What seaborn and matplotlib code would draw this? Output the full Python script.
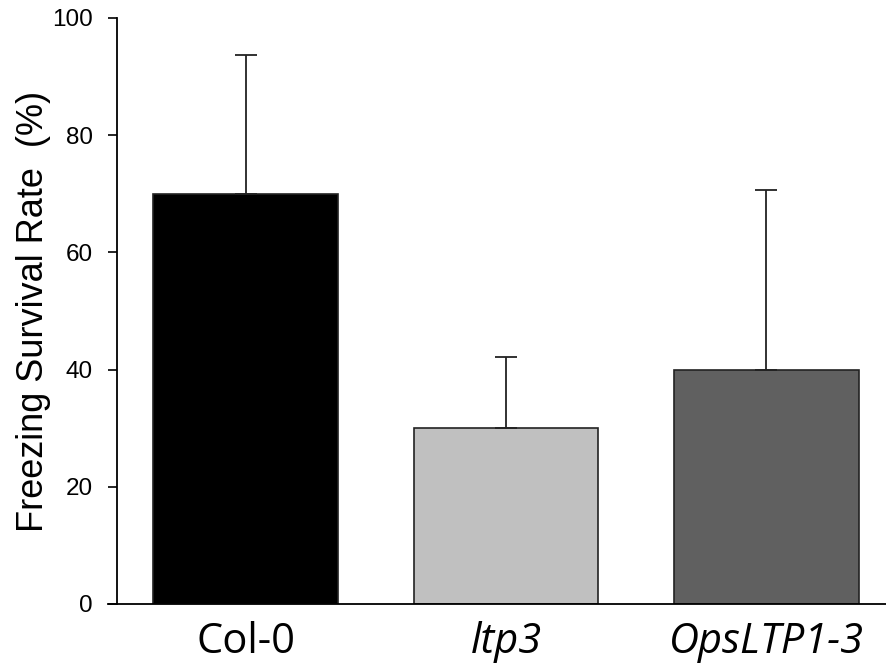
import matplotlib
matplotlib.use("Agg")
import matplotlib.pyplot as plt
import seaborn as sns
import pandas as pd
import numpy as np

categories = ["Col-0", "ltp3", "OpsLTP1-3"]
values = [70, 30, 40]
err_upper = [23.7, 12.2, 30.7]
colors = ["#000000", "#c0c0c0", "#606060"]
yticks = [0, 20, 40, 60, 80, 100]

sns.set_theme(style="white")
plt.rcParams['font.family'] = ['Liberation Sans', 'DejaVu Sans']
plt.rcParams['text.color'] = 'black'
plt.rcParams['axes.labelcolor'] = 'black'
plt.rcParams['xtick.color'] = 'black'
plt.rcParams['ytick.color'] = 'black'

fig = plt.figure(figsize=(8.86, 6.67), dpi=100)
ax = fig.add_axes([108/886, 63/667, (886-108)/886, (604-18)/667])

df = pd.DataFrame({"cat": categories, "val": values})
sns.barplot(data=df, x="cat", y="val", hue="cat", palette=colors, legend=False,
            width=0.71, edgecolor="#222222", linewidth=1.2, ax=ax, errorbar=None)

x = np.arange(len(categories))
ax.errorbar(x, values, yerr=[np.zeros(len(values)), err_upper], fmt="none",
            ecolor="#222222", elinewidth=1.3, capsize=8, capthick=1.3)

ax.set_xlim(-0.529, 2.46)
ax.set_ylim(0, 100)
ax.spines['left'].set_position(('data', -0.494))
ax.set_yticks(yticks)
ax.set_yticklabels([str(t) for t in yticks], fontsize=17.5)
ax.tick_params(axis="y", direction="out", length=6.5, width=1.2, color="black", pad=11, left=True)
ax.tick_params(axis="x", length=0, pad=12)
ax.set_xticks(x)
ax.set_xticklabels(categories)
for lbl, style in zip(ax.get_xticklabels(), ["normal", "italic", "italic"]):
    lbl.set_fontfamily(["Open Sans", "DejaVu Sans"])
    lbl.set_fontsize(30)
    lbl.set_fontstyle(style)
ax.set_xlabel("")
ax.set_ylabel("Freezing Survival Rate  (%)", fontsize=26, labelpad=1)

for s in ["top", "right"]:
    ax.spines[s].set_visible(False)
for s in ["left", "bottom"]:
    ax.spines[s].set_color("black")
    ax.spines[s].set_linewidth(1.3)

fig.savefig("out.png", dpi=100)
